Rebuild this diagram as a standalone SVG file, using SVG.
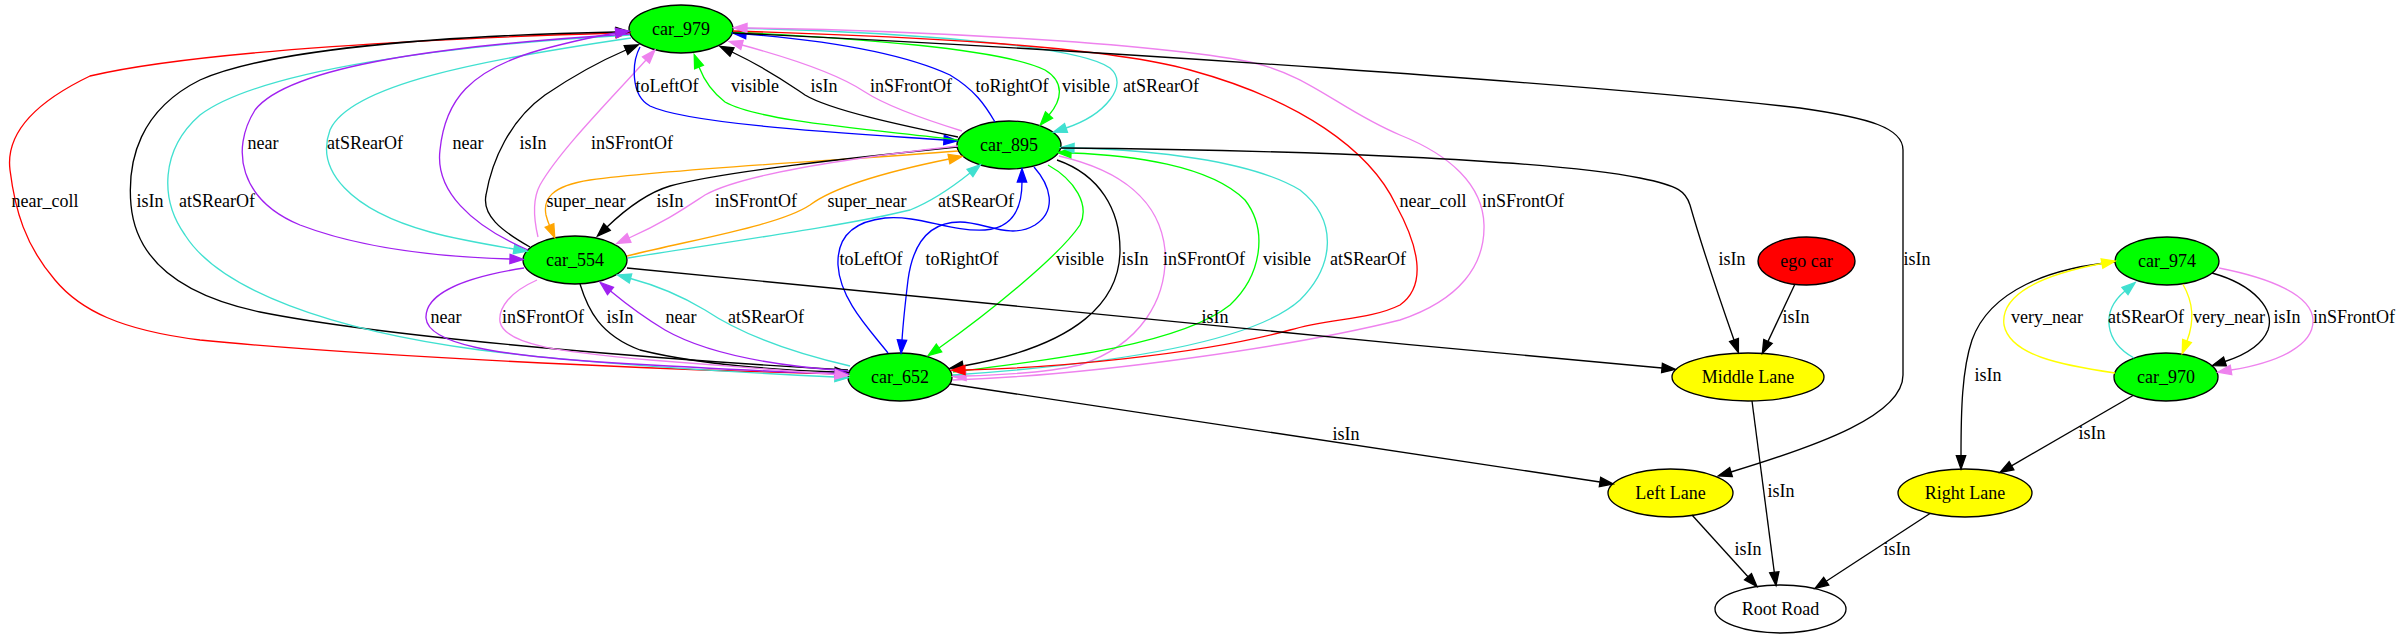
<svg xmlns="http://www.w3.org/2000/svg" width="2400" height="639" viewBox="0 0 2400 639">
<style>
text{font-family:"Liberation Serif","Times New Roman",serif;font-size:18px;text-anchor:middle;fill:#000}
.n ellipse{stroke:#000;stroke-width:1.33}
.g{fill:#00ff00}.r{fill:#ff0000}.y{fill:#ffff00}.w{fill:#fff}
path.e{fill:none;stroke-width:1.33}
.k{stroke:#000}.rd{stroke:#ff0000}.bl{stroke:#0000ff}.gr{stroke:#00ff00}.tq{stroke:#40e0d0}.pu{stroke:#a020f0}.vi{stroke:#ee82ee}.or{stroke:#ffa500}.ye{stroke:#ffff00}
</style>
<defs>
<marker id="ak" markerUnits="userSpaceOnUse" viewBox="-2 -7 18 14" markerWidth="18" markerHeight="14" refX="0" refY="0" orient="auto" overflow="visible"><path d="M0,-4.67L13.33,0L0,4.67Z" fill="#000" stroke="#000" stroke-width="1.33"/></marker>
<marker id="ard" markerUnits="userSpaceOnUse" viewBox="-2 -7 18 14" markerWidth="18" markerHeight="14" refX="0" refY="0" orient="auto" overflow="visible"><path d="M0,-4.67L13.33,0L0,4.67Z" fill="#ff0000" stroke="#ff0000" stroke-width="1.33"/></marker>
<marker id="abl" markerUnits="userSpaceOnUse" viewBox="-2 -7 18 14" markerWidth="18" markerHeight="14" refX="0" refY="0" orient="auto" overflow="visible"><path d="M0,-4.67L13.33,0L0,4.67Z" fill="#0000ff" stroke="#0000ff" stroke-width="1.33"/></marker>
<marker id="agr" markerUnits="userSpaceOnUse" viewBox="-2 -7 18 14" markerWidth="18" markerHeight="14" refX="0" refY="0" orient="auto" overflow="visible"><path d="M0,-4.67L13.33,0L0,4.67Z" fill="#00ff00" stroke="#00ff00" stroke-width="1.33"/></marker>
<marker id="atq" markerUnits="userSpaceOnUse" viewBox="-2 -7 18 14" markerWidth="18" markerHeight="14" refX="0" refY="0" orient="auto" overflow="visible"><path d="M0,-4.67L13.33,0L0,4.67Z" fill="#40e0d0" stroke="#40e0d0" stroke-width="1.33"/></marker>
<marker id="apu" markerUnits="userSpaceOnUse" viewBox="-2 -7 18 14" markerWidth="18" markerHeight="14" refX="0" refY="0" orient="auto" overflow="visible"><path d="M0,-4.67L13.33,0L0,4.67Z" fill="#a020f0" stroke="#a020f0" stroke-width="1.33"/></marker>
<marker id="avi" markerUnits="userSpaceOnUse" viewBox="-2 -7 18 14" markerWidth="18" markerHeight="14" refX="0" refY="0" orient="auto" overflow="visible"><path d="M0,-4.67L13.33,0L0,4.67Z" fill="#ee82ee" stroke="#ee82ee" stroke-width="1.33"/></marker>
<marker id="aor" markerUnits="userSpaceOnUse" viewBox="-2 -7 18 14" markerWidth="18" markerHeight="14" refX="0" refY="0" orient="auto" overflow="visible"><path d="M0,-4.67L13.33,0L0,4.67Z" fill="#ffa500" stroke="#ffa500" stroke-width="1.33"/></marker>
<marker id="aye" markerUnits="userSpaceOnUse" viewBox="-2 -7 18 14" markerWidth="18" markerHeight="14" refX="0" refY="0" orient="auto" overflow="visible"><path d="M0,-4.67L13.33,0L0,4.67Z" fill="#ffff00" stroke="#ffff00" stroke-width="1.33"/></marker>
</defs>
<rect width="2400" height="639" fill="#fff"/>
<g id="nodes">
<g id="car_979" class="n"><ellipse class="g" cx="681" cy="29" rx="52" ry="24"/><text x="681" y="35">car_979</text></g>
<g id="car_895" class="n"><ellipse class="g" cx="1009" cy="145" rx="52" ry="24"/><text x="1009" y="151">car_895</text></g>
<g id="car_554" class="n"><ellipse class="g" cx="575" cy="260" rx="52" ry="24"/><text x="575" y="266">car_554</text></g>
<g id="car_652" class="n"><ellipse class="g" cx="900" cy="377" rx="52" ry="24"/><text x="900" y="383">car_652</text></g>
<g id="ego_car" class="n"><ellipse class="r" cx="1806.5" cy="261" rx="48.5" ry="24"/><text x="1806.5" y="267">ego car</text></g>
<g id="middle_lane" class="n"><ellipse class="y" cx="1748" cy="377" rx="76" ry="24"/><text x="1748" y="383">Middle Lane</text></g>
<g id="left_lane" class="n"><ellipse class="y" cx="1670.5" cy="493" rx="62.5" ry="24"/><text x="1670.5" y="499">Left Lane</text></g>
<g id="right_lane" class="n"><ellipse class="y" cx="1965" cy="493" rx="67" ry="24"/><text x="1965" y="499">Right Lane</text></g>
<g id="root_road" class="n"><ellipse class="w" cx="1780.5" cy="609" rx="65.5" ry="24"/><text x="1780.5" y="615">Root Road</text></g>
<g id="car_974" class="n"><ellipse class="g" cx="2167" cy="261" rx="52" ry="24"/><text x="2167" y="267">car_974</text></g>
<g id="car_970" class="n"><ellipse class="g" cx="2166" cy="377" rx="52" ry="24"/><text x="2166" y="383">car_970</text></g>
</g>
<g id="edges">
<g><path class="e rd" marker-end="url(#ard)" d="M848,374 C650,370 350,355 200,340 C120,330 80,310 55,280 C25,245 15,210 10,170 C5,130 40,100 90,76 C200,50 450,38 616,33"/><text x="45" y="207">near_coll</text></g>
<g><path class="e k" marker-end="url(#ak)" d="M848,370 C700,362 400,340 260,312 C180,295 136,260 131,205 C127,160 140,110 200,80 C280,45 480,35 616,32"/><text x="150" y="207">isIn</text></g>
<g><path class="e tq" marker-end="url(#atq)" d="M630,35 C450,45 260,70 200,115 C160,150 160,200 185,235 C220,290 330,330 480,350 C600,365 750,373 835,377"/><text x="217" y="207">atSRearOf</text></g>
<g><path class="e pu" marker-end="url(#apu)" d="M630,34 C450,45 290,65 255,110 C230,150 240,200 300,225 C360,248 440,257 510,259"/><text x="263" y="149">near</text></g>
<g><path class="e tq" marker-end="url(#atq)" d="M631,38 C480,60 350,85 330,130 C315,170 350,210 430,232 C460,240 490,245 514,249"/><text x="365" y="149">atSRearOf</text></g>
<g><path class="e k" marker-end="url(#ak)" d="M530,247 C500,230 482,215 486,195 C492,160 510,120 545,95 C570,78 598,62 626,50"/><text x="533" y="149">isIn</text></g>
<g><path class="e vi" marker-end="url(#avi)" d="M538,237 C534,220 532,200 540,185 C560,150 610,100 646,60"/><text x="632" y="149">inSFrontOf</text></g>
<g><path class="e pu" marker-end="url(#apu)" d="M528,250 C470,225 435,190 440,150 C445,100 470,70 540,50 C570,42 590,37 616,33"/><text x="468" y="149">near</text></g>
<g><path class="e bl" marker-end="url(#abl)" d="M640,47 C632,62 630,95 650,106 C690,125 860,134 944,140"/><text x="667" y="92">toLeftOf</text></g>
<g><path class="e gr" marker-end="url(#agr)" d="M958,140 C880,130 760,122 725,102 C712,92 704,80 699,67"/><text x="755" y="92">visible</text></g>
<g><path class="e k" marker-end="url(#ak)" d="M958,137 C900,125 830,110 805,95 C790,85 770,70 732,52"/><text x="824" y="92">isIn</text></g>
<g><path class="e vi" marker-end="url(#avi)" d="M962,131 C920,118 885,105 865,92 C840,75 790,58 742,45"/><text x="911" y="92">inSFrontOf</text></g>
<g><path class="e bl" marker-end="url(#abl)" d="M995,122 C985,105 975,90 950,75 C900,52 820,40 746,34"/><text x="1012" y="92">toRightOf</text></g>
<g><path class="e gr" marker-end="url(#agr)" d="M733,32 C850,38 1000,48 1045,70 C1065,82 1062,100 1049,115"/><text x="1086" y="92">visible</text></g>
<g><path class="e tq" marker-end="url(#atq)" d="M734,28 C900,32 1080,45 1110,68 C1130,85 1105,115 1066,128"/><text x="1161" y="92">atSRearOf</text></g>
<g><path class="e or" marker-end="url(#aor)" d="M958,151 C850,160 680,168 590,180 C550,186 543,200 546,215 C547,219 548,222 549.5,225.5"/><text x="586" y="207">super_near</text></g>
<g><path class="e k" marker-end="url(#ak)" d="M957,147 C850,158 720,172 670,186 C650,192 630,205 607,227"/><text x="670" y="207">isIn</text></g>
<g><path class="e vi" marker-end="url(#avi)" d="M958,146 C850,158 740,175 705,195 C685,208 665,222 629,238"/><text x="756" y="207">inSFrontOf</text></g>
<g><path class="e or" marker-end="url(#aor)" d="M627,256 C700,238 780,225 810,205 C830,190 870,175 949,159"/><text x="867" y="207">super_near</text></g>
<g><path class="e tq" marker-end="url(#atq)" d="M628,258 C720,243 850,225 910,210 C935,200 955,185 970,173"/><text x="976" y="207">atSRearOf</text></g>
<g><path class="e bl" marker-end="url(#abl)" d="M888,353 C870,330 840,300 838,265 C837,240 850,222 885,218 C920,215 950,232 985,230 C1015,228 1022,205 1022,182"/><text x="871" y="265">toLeftOf</text></g>
<g><path class="e bl" marker-end="url(#abl)" d="M1034,167 C1050,185 1058,210 1035,225 C1010,240 985,222 960,222 C925,222 912,250 908,280 C905,305 903,325 902,340"/><text x="962" y="265">toRightOf</text></g>
<g><path class="e gr" marker-end="url(#agr)" d="M1048,165 C1075,180 1090,205 1080,225 C1060,255 990,312 939,348"/><text x="1080" y="265">visible</text></g>
<g><path class="e k" marker-end="url(#ak)" d="M1057,160 C1100,175 1120,210 1120,250 C1120,300 1080,345 963,366"/><text x="1135" y="265">isIn</text></g>
<g><path class="e vi" marker-end="url(#avi)" d="M1059,156 C1120,170 1160,200 1165,250 C1168,300 1140,345 1080,365 C1050,372 1000,375 966,376"/><text x="1204" y="265">inSFrontOf</text></g>
<g><path class="e gr" marker-end="url(#agr)" d="M953,372 C1050,360 1180,345 1230,305 C1262,275 1268,230 1245,200 C1210,165 1130,155 1071,153"/><text x="1287" y="265">visible</text></g>
<g><path class="e tq" marker-end="url(#atq)" d="M953,375 C1100,365 1250,345 1300,300 C1335,265 1338,220 1300,190 C1250,160 1150,150 1074,148"/><text x="1368" y="265">atSRearOf</text></g>
<g><path class="e rd" marker-end="url(#ard)" d="M733,31 C900,36 1100,45 1190,70 C1300,100 1370,150 1396,205 C1418,245 1428,285 1400,305 C1370,320 1330,318 1290,330 C1200,355 1050,368 965,370"/><text x="1433" y="207">near_coll</text></g>
<g><path class="e vi" marker-end="url(#avi)" d="M953,380 C1100,375 1300,345 1400,320 C1460,300 1485,265 1484,225 C1483,185 1450,155 1400,135 C1340,110 1310,75 1250,62 C1150,42 900,30 747,28"/><text x="1523" y="207">inSFrontOf</text></g>
<g><path class="e k" marker-end="url(#ak)" d="M733,33 C1100,50 1600,85 1800,108 C1870,118 1903,128 1903,150 L1903,375 C1903,415 1820,445 1731,472"/><text x="1917" y="265">isIn</text></g>
<g><path class="e k" marker-end="url(#ak)" d="M1061,148 C1300,150 1550,160 1640,178 C1680,186 1686,192 1690,205 C1700,240 1720,300 1734,340"/><text x="1732" y="265">isIn</text></g>
<g><path class="e k" marker-end="url(#ak)" d="M627,268 C900,296 1300,335 1662,368"/><text x="1215" y="323">isIn</text></g>
<g><path class="e k" marker-end="url(#ak)" d="M1795,284 L1768,341.4"/><text x="1796" y="323">isIn</text></g>
<g><path class="e k" marker-end="url(#ak)" d="M950,384 L1600,482"/><text x="1346" y="440">isIn</text></g>
<g><path class="e k" marker-end="url(#ak)" d="M1692,515 L1748,576.7"/><text x="1748" y="555">isIn</text></g>
<g><path class="e k" marker-end="url(#ak)" d="M1752,401 L1774.3,572.3"/><text x="1781" y="497">isIn</text></g>
<g><path class="e k" marker-end="url(#ak)" d="M1930,513.5 L1826.2,581.2"/><text x="1897" y="555">isIn</text></g>
<g><path class="e k" marker-end="url(#ak)" d="M2133,395.5 L2011.5,465.8"/><text x="2092" y="439">isIn</text></g>
<g><path class="e k" marker-end="url(#ak)" d="M2115,262 C2050,268 1990,290 1972,340 C1962,370 1961,410 1961,455.7"/><text x="1988" y="381">isIn</text></g>
<g><path class="e ye" marker-end="url(#aye)" d="M2115,373 C2060,365 2010,355 2004,325 C2000,295 2040,275 2102,263.5"/><text x="2047" y="323">very_near</text></g>
<g><path class="e tq" marker-end="url(#atq)" d="M2134,358 C2105,342 2100,312 2125,291"/><text x="2146" y="323">atSRearOf</text></g>
<g><path class="e ye" marker-end="url(#aye)" d="M2183,284.5 C2192,300 2195,320 2187,341"/><text x="2229" y="323">very_near</text></g>
<g><path class="e k" marker-end="url(#ak)" d="M2212,273 C2255,285 2275,310 2268,330 C2262,345 2245,355 2225,361.5"/><text x="2287" y="323">isIn</text></g>
<g><path class="e vi" marker-end="url(#avi)" d="M2219,268 C2270,278 2312,295 2313,320 C2314,345 2280,362 2231,370"/><text x="2354" y="323">inSFrontOf</text></g>
<g><path class="e k" marker-end="url(#ak)" d="M580,284 C588,310 600,335 640,350 C700,365 780,370 835,372"/><text x="620" y="323">isIn</text></g>
<g><path class="e pu" marker-end="url(#apu)" d="M524,268 C460,278 425,295 426,318 C428,345 500,355 600,362 C700,368 780,372 835,373.5"/><text x="446" y="323">near</text></g>
<g><path class="e pu" marker-end="url(#apu)" d="M849,371 C760,365 700,350 665,330 C640,315 625,303 610.5,291"/><text x="681" y="323">near</text></g>
<g><path class="e tq" marker-end="url(#atq)" d="M850,366 C780,350 735,330 705,310 C680,295 655,285 630.5,278.5"/><text x="766" y="323">atSRearOf</text></g>
<g><path class="e vi" marker-end="url(#avi)" d="M537,280 C510,292 498,308 500,322 C505,345 560,352 650,360 C740,367 800,372 835,374.5"/><text x="543" y="323">inSFrontOf</text></g>
</g>
</svg>
